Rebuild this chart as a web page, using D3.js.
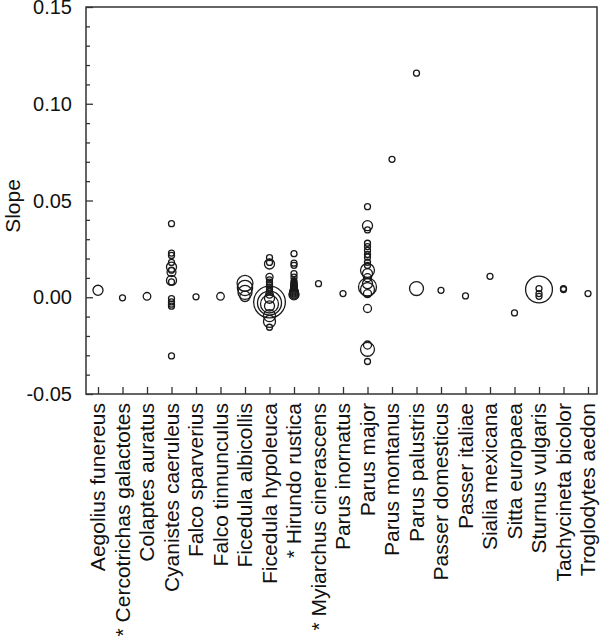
<!DOCTYPE html>
<html>
<head>
<meta charset="utf-8">
<script src="https://cdn.jsdelivr.net/npm/d3@7"></script>
<style>
  body { margin: 0; background: #fff; }
  svg text { font-family: "Liberation Sans", Arial, Helvetica, sans-serif; fill: #111; }
</style>
</head>
<body>
<div id="chart"></div>
<script>
// species on the x axis ("* " marks the starred ones)
var species = [
  "Aegolius funereus", "* Cercotrichas galactotes", "Colaptes auratus",
  "Cyanistes caeruleus", "Falco sparverius", "Falco tinnunculus",
  "Ficedula albicollis", "Ficedula hypoleuca", "* Hirundo rustica",
  "* Myiarchus cinerascens", "Parus inornatus", "Parus major",
  "Parus montanus", "Parus palustris", "Passer domesticus", "Passer italiae",
  "Sialia mexicana", "Sitta europaea", "Sturnus vulgaris",
  "Tachycineta bicolor", "Troglodytes aedon"
];

// slope estimates per species (same order as species)
var slopes = [
  [0.0036],
  [-0.0003],
  [0.0005],
  [0.038, 0.0228, 0.0216, 0.018, 0.0156, 0.014, 0.013, 0.0087, 0.0079, -0.0007, -0.0024, -0.0036, -0.0046, -0.0303],
  [0.0002],
  [0.0005],
  [0.0072, 0.0048, 0.0025, 0.0005],
  [0.0205, 0.018, 0.0172, 0.0105, 0.009, 0.0078, 0.0065, 0.0052, 0.004, 0.003, 0.0015, -0.0005, -0.0025, -0.003, -0.0035, -0.0045, -0.0095, -0.0125, -0.0155],
  [0.0225, 0.0176, 0.0165, 0.0122, 0.0104, 0.0088, 0.0084, 0.008, 0.0076, 0.0072, 0.0068, 0.0064, 0.006, 0.0056, 0.0052, 0.0048, 0.0044, 0.004, 0.0036, 0.0032, 0.0028, 0.0024, 0.002, 0.0016, 0.0012],
  [0.007],
  [0.0019],
  [0.0468, 0.037, 0.0348, 0.0279, 0.0262, 0.0242, 0.0221, 0.0207, 0.0181, 0.0164, 0.0139, 0.0122, 0.0101, 0.007, 0.0053, 0.004, 0.0019, -0.0058, -0.0247, -0.0269, -0.0332],
  [0.0713],
  [0.1158, 0.0045],
  [0.0036],
  [0.0007],
  [0.0108],
  [-0.0081],
  [0.004, 0.0045, 0.0019, 0.0005],
  [0.0045, 0.004],
  [0.0019]
];

// relative weight of each estimate (drawn as circle size)
var weights = [
  [2.8],
  [1],
  [1.6],
  [1, 1, 1, 1, 2.8, 1, 2.2, 2.8, 1, 1, 1, 1, 1, 1],
  [1],
  [1.6],
  [7, 6.5, 5.4, 3],
  [1, 1, 2.8, 1.4, 1, 1, 1, 1, 1, 1, 1.6, 2.8, 28, 16, 9, 2.8, 4, 4, 1],
  [1, 1, 1, 1, 1, 0.8, 0.8, 0.8, 0.9, 0.9, 0.9, 1, 1, 1, 1.1, 1.2, 1.3, 1.4, 1.5, 1.7, 1.9, 2.1, 2.3, 2.5, 2.7],
  [1],
  [1],
  [1, 2.8, 1, 1, 1, 1, 1, 1, 1, 1, 5.4, 2.8, 1.8, 2.8, 9, 5.4, 1.8, 1.8, 1.8, 5.4, 1],
  [1],
  [1, 5.4],
  [1],
  [1],
  [1],
  [1],
  [20, 1, 1, 1],
  [1, 1],
  [1]
];

var yTicks = [-0.05, 0.00, 0.05, 0.10, 0.15];

var width = 601, height = 638;
var plotL = 86, plotR = 597, plotT = 7, plotB = 394;

var svg = d3.select("#chart").append("svg")
  .attr("width", width)
  .attr("height", height);

var x = d3.scalePoint()
  .domain(species)
  .range([98, 588]);

var y = d3.scaleLinear()
  .domain([-0.05, 0.15])
  .range([plotB, plotT]);

var r = d3.scaleSqrt()
  .domain([0, 1])
  .range([0, 3]);

// flatten into points
var points = [];
species.forEach(function(s, i) {
  slopes[i].forEach(function(v, j) {
    points.push({sp: s, v: v, w: weights[i][j]});
  });
});

// y axis: ticks inward, minor every 0.01
var yAxis = d3.axisRight(y)
  .tickValues(yTicks)
  .tickSize(7)
  .tickFormat("");
var yMinor = d3.axisRight(y)
  .tickValues(d3.range(-0.04, 0.15, 0.01).filter(function(v) {
    return Math.abs(Math.round(v * 100) % 5) !== 0;
  }))
  .tickSize(4)
  .tickFormat("");

var gy = svg.append("g").attr("transform", "translate(" + plotL + ",0)").call(yAxis);
var gym = svg.append("g").attr("transform", "translate(" + plotL + ",0)").call(yMinor);
[gy, gym].forEach(function(g) {
  g.select(".domain").remove();
  g.selectAll("line").attr("stroke", "#333").attr("stroke-width", 1.3);
});

// tick labels use a plain hyphen like the original
var fmt = d3.format(".2f");
svg.selectAll(".ylab")
  .data(yTicks)
  .enter().append("text")
  .attr("class", "ylab")
  .attr("x", 72)
  .attr("y", function(d) { return y(d); })
  .attr("dy", "0.36em")
  .attr("text-anchor", "end")
  .style("font-size", "20px")
  .text(function(d) { return fmt(d).replace("\u2212", "-"); });

// x axis ticks pointing up
var xAxis = d3.axisTop(x).tickSize(7).tickFormat("");
var gx = svg.append("g").attr("transform", "translate(0," + plotB + ")").call(xAxis);
gx.select(".domain").remove();
gx.selectAll("line").attr("stroke", "#333").attr("stroke-width", 1.3);

svg.selectAll(".xlab")
  .data(species)
  .enter().append("text")
  .attr("class", "xlab")
  .attr("transform", function(d) { return "translate(" + x(d) + ",403) rotate(-90)"; })
  .attr("dy", "0.35em")
  .attr("text-anchor", "end")
  .style("font-size", "21px")
  .text(function(d) { return d; });

// frame
svg.append("rect")
  .attr("x", plotL)
  .attr("y", plotT)
  .attr("width", plotR - plotL)
  .attr("height", plotB - plotT)
  .attr("fill", "none")
  .attr("stroke", "#333")
  .attr("stroke-width", 1.5);

// y title
svg.append("text")
  .attr("transform", "translate(20,206) rotate(-90)")
  .attr("text-anchor", "middle")
  .style("font-size", "21px")
  .text("Slope");

// circles
svg.append("g")
  .selectAll("circle")
  .data(points)
  .enter().append("circle")
  .attr("cx", function(d) { return x(d.sp); })
  .attr("cy", function(d) { return y(d.v); })
  .attr("r", function(d) { return r(d.w); })
  .attr("fill", "none")
  .attr("stroke", "#1a1a1a")
  .attr("stroke-width", 1.3);
</script>
</body>
</html>
